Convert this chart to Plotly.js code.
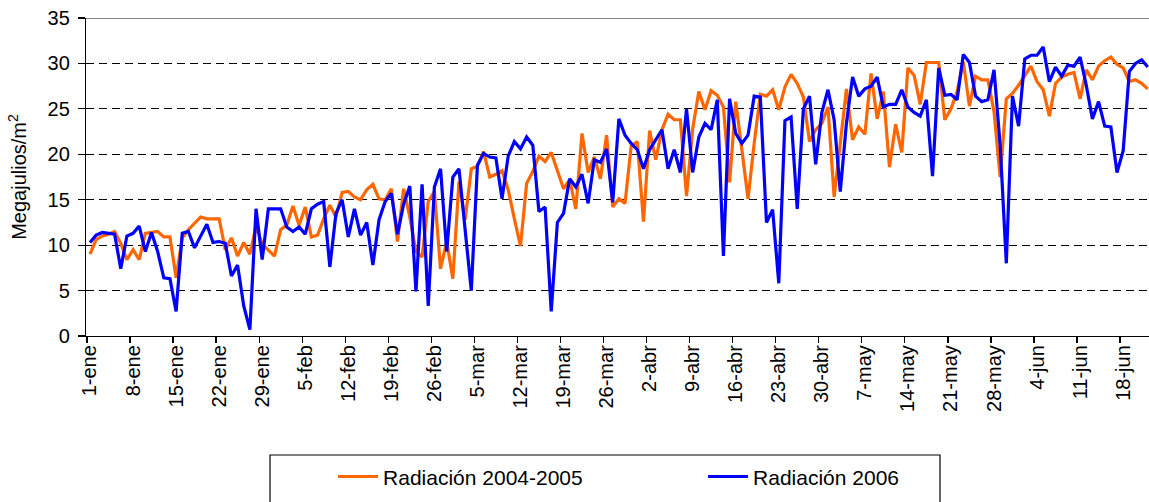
<!DOCTYPE html>
<html>
<head>
<meta charset="utf-8">
<script src="https://cdn.plot.ly/plotly-3.0.1.min.js"></script>
<style>
  html, body { margin: 0; padding: 0; background: #fff; }
  #chart { width: 1149px; height: 502px; }
</style>
</head>
<body>
<div id="chart"></div>
<script>
// Daily radiation (MJ/m2), 1-ene ... 22-jun
const radiacion2004_2005 = [
  9.0, 10.6, 11.0, 11.2, 11.5, 10.2, 8.4, 9.5, 8.4, 11.3,
  11.4, 11.5, 10.9, 10.9, 6.4, 10.8, 11.7, 12.4, 13.1, 12.9,
  12.9, 12.9, 9.5, 10.8, 8.8, 10.3, 9.0, 12.1, 10.1, 9.5,
  8.8, 11.7, 12.2, 14.3, 12.2, 14.2, 10.9, 11.1, 12.9, 14.4,
  13.1, 15.8, 15.9, 15.3, 15.0, 16.1, 16.7, 15.1, 15.0, 16.2,
  10.4, 16.2, 13.1, 9.3, 8.7, 14.8, 15.9, 7.4, 10.4, 6.3,
  17.0, 12.8, 18.4, 18.7, 20.3, 17.5, 17.8, 18.2, 16.1, 12.9,
  9.9, 16.8, 18.1, 19.8, 19.2, 20.2, 18.3, 16.2, 17.2, 14.0,
  22.3, 18.0, 19.7, 17.3, 22.1, 14.2, 15.1, 14.6, 20.9, 21.4,
  12.6, 22.6, 19.4, 22.7, 24.4, 23.8, 23.8, 15.4, 22.8, 26.9,
  24.9, 27.0, 26.5, 25.2, 16.9, 25.8, 20.5, 15.1, 21.2, 26.6,
  26.4, 27.1, 24.9, 27.4, 28.8, 27.8, 26.3, 21.4, 22.7, 23.4,
  25.2, 15.3, 21.2, 27.2, 21.6, 23.0, 22.2, 28.9, 23.9, 26.9,
  18.6, 23.3, 20.2, 29.5, 28.7, 25.5, 30.1, 30.1, 30.1, 23.8,
  25.0, 26.9, 30.2, 25.3, 28.6, 28.2, 28.2, 24.7, 17.5, 26.1,
  26.7, 27.6, 28.6, 29.7, 28.0, 27.1, 24.2, 27.8, 28.5, 28.8,
  29.0, 26.1, 29.3, 28.2, 29.7, 30.3, 30.7, 29.9, 29.5, 28.0,
  28.2, 27.8, 27.2
];
const radiacion2006 = [
  10.3, 11.1, 11.4, 11.3, 11.2, 7.4, 11.0, 11.3, 12.1, 9.3,
  11.4, 9.3, 6.4, 6.3, 2.7, 11.3, 11.5, 9.7, 11.0, 12.3,
  10.3, 10.4, 10.2, 6.6, 7.8, 3.3, 0.7, 14.0, 8.4, 14.0,
  14.0, 14.0, 12.0, 11.5, 12.0, 11.2, 14.0, 14.5, 14.8, 7.6,
  13.5, 15.0, 10.9, 14.0, 11.1, 12.5, 7.8, 12.8, 14.8, 15.7,
  11.2, 14.5, 16.5, 4.9, 16.7, 3.3, 16.4, 18.4, 9.3, 17.5,
  18.4, 11.7, 5.0, 18.8, 20.1, 19.7, 19.6, 15.1, 19.8, 21.4,
  20.6, 21.9, 21.0, 13.7, 14.2, 2.7, 12.5, 13.5, 17.3, 16.4,
  17.8, 14.6, 19.4, 19.1, 20.6, 14.7, 23.9, 22.1, 21.2, 20.5,
  18.4, 20.5, 21.6, 22.7, 18.4, 20.5, 18.0, 25.0, 18.0, 21.9,
  23.4, 22.7, 26.0, 8.8, 26.1, 22.3, 21.2, 22.1, 26.4, 26.3,
  12.5, 13.9, 5.8, 23.7, 24.1, 14.0, 25.0, 26.4, 18.9, 24.6,
  27.1, 23.8, 15.9, 23.4, 28.5, 26.4, 27.2, 27.5, 28.5, 25.2,
  25.5, 25.5, 27.1, 25.2, 24.6, 24.2, 26.0, 17.6, 29.5, 26.5,
  26.6, 26.0, 31.0, 30.1, 26.4, 25.8, 26.0, 29.3, 21.0, 8.0,
  26.4, 23.1, 30.5, 30.9, 30.9, 31.8, 28.0, 29.6, 28.6, 29.8,
  29.7, 30.7, 27.6, 23.9, 25.8, 23.1, 23.0, 18.0, 20.4, 29.1,
  30.0, 30.4, 29.6
];
const tickLabels = [
  "1-ene", "8-ene", "15-ene", "22-ene", "29-ene", "5-feb", "12-feb", "19-feb", "26-feb",
  "5-mar", "12-mar", "19-mar", "26-mar", "2-abr", "9-abr", "16-abr", "23-abr", "30-abr",
  "7-may", "14-may", "21-may", "28-may", "4-jun", "11-jun", "18-jun"
];
const seriesNames = ["Radiación 2004-2005", "Radiación 2006"];

// day positions (category index)
const days = radiacion2006.map((_, i) => i);
const tickVals = tickLabels.map((_, k) => k * 7);

const FONT = "Liberation Sans, Arial, sans-serif";

const traces = [
  {
    x: days, y: radiacion2004_2005, type: "scatter", mode: "lines",
    name: seriesNames[0], line: { color: "#FF6600", width: 3.2 }
  },
  {
    x: days, y: radiacion2006, type: "scatter", mode: "lines",
    name: seriesNames[1], line: { color: "#0000FF", width: 3.2 }
  }
];

const layout = {
  width: 1149, height: 502,
  margin: { l: 86, r: 0, t: 18, b: 166 },
  paper_bgcolor: "#ffffff", plot_bgcolor: "#ffffff",
  font: { family: FONT, color: "#000", size: 19 },
  showlegend: true,
  legend: {
    orientation: "h", x: 0.2324, xanchor: "left", y: -0.443, yanchor: "middle",
    font: { family: FONT, size: 21, color: "#000" },
    bgcolor: "rgba(0,0,0,0)", borderwidth: 0,
    entrywidth: 315, entrywidthmode: "pixels", itemwidth: 40
  },
  xaxis: {
    range: [-0.65, 172.2],
    tickmode: "array", tickvals: tickVals, ticktext: tickLabels,
    tickangle: -90, ticks: "", tickfont: { family: FONT, size: 20 },
    showgrid: false, zeroline: false,
    showline: true, linecolor: "#000", linewidth: 1.2,
    minor: { tick0: -0.5, dtick: 7, ticks: "outside", ticklen: 6, tickcolor: "#000", tickwidth: 1.2, showgrid: false },
    fixedrange: true
  },
  yaxis: {
    range: [0, 35], tickmode: "linear", tick0: 0, dtick: 5,
    ticks: "outside", ticklen: 7, tickcolor: "#000", tickwidth: 1.2,
    ticklabelstandoff: 4,
    tickfont: { family: FONT, size: 20 },
    showgrid: true, gridcolor: "#000", gridwidth: 1, griddash: "8px,5px",
    zeroline: false, showline: true, linecolor: "#000", linewidth: 1.2,
    title: { text: "Megajulios/m<sup>2</sup>", font: { family: FONT, size: 20 }, standoff: 15 },
    fixedrange: true
  },
  shapes: [
    { type: "line", xref: "paper", yref: "y", x0: 0, x1: 1, y0: 35, y1: 35,
      line: { color: "#808080", width: 2 }, layer: "above" },
    { type: "rect", xref: "paper", yref: "paper",
      x0: (270 - 86) / 1063, x1: (940 - 86) / 1063,
      y0: (336 - 455) / 318, y1: (336 - 510) / 318,
      line: { color: "#000", width: 1.2 }, fillcolor: "rgba(0,0,0,0)" }
  ]
};

Plotly.newPlot("chart", traces, layout, { displayModeBar: false, staticPlot: true });
</script>
</body>
</html>
